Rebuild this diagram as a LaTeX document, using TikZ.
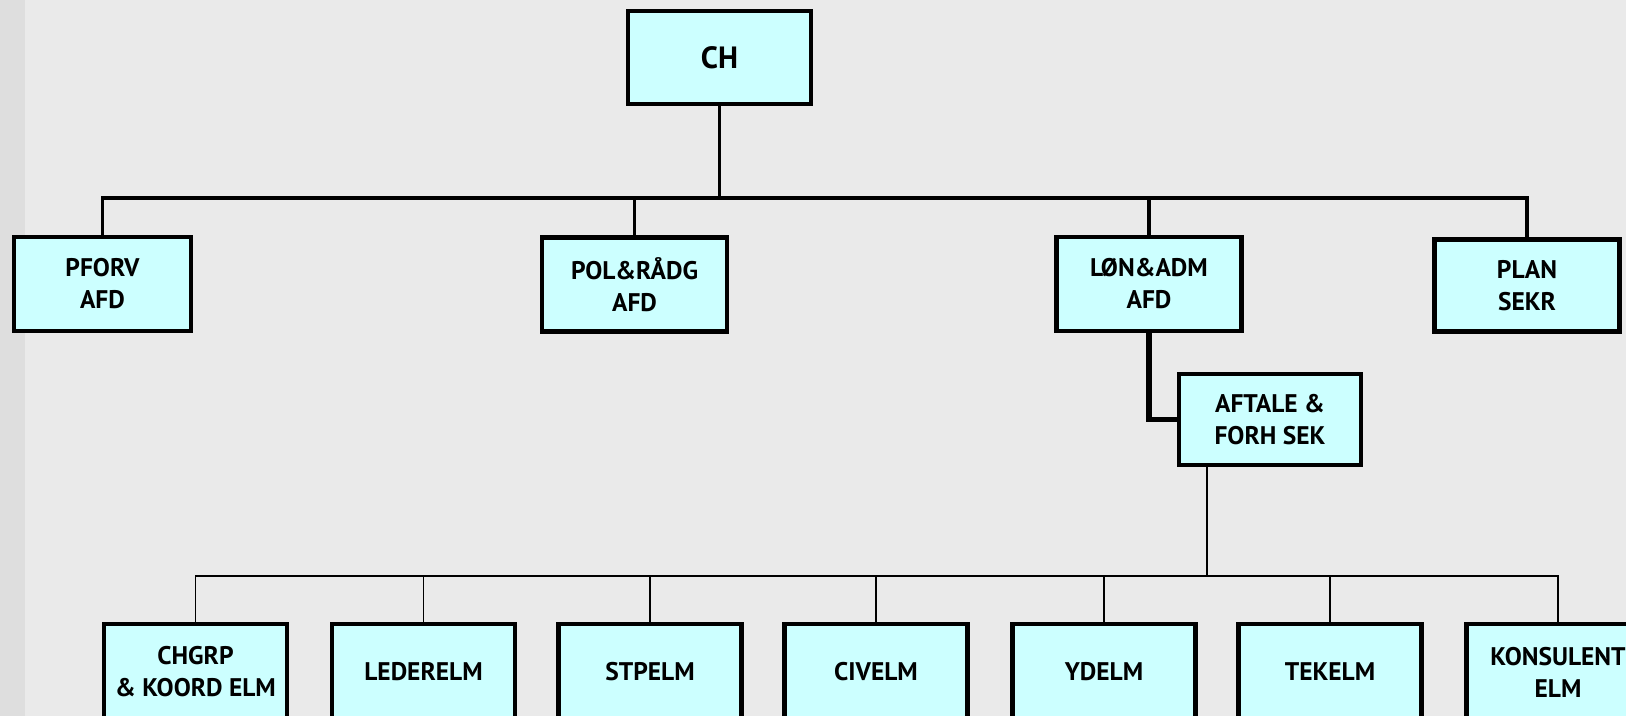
\documentclass[tikz,border=0pt]{standalone}
\usepackage{fontspec}
\setmainfont{PT Sans}
\usetikzlibrary{positioning}

\definecolor{bgmain}{HTML}{EAEAEA}
\definecolor{bgside}{HTML}{DEDEDE}
\definecolor{unitfill}{HTML}{CCFFFF}

\begin{document}
\begin{tikzpicture}[x=0.02cm, y=-0.02cm,
    unit/.style={rectangle, draw=black, fill=unitfill, line width=2.4pt, align=center,
        minimum width=3.7cm, minimum height=1.88cm, inner sep=0pt,
        font=\bfseries\fontsize{14.5}{18.2}\selectfont},
    lowunit/.style={unit, minimum width=3.66cm, minimum height=1.92cm},
    busline/.style={black, line width=2.2pt},
    linkline/.style={black, line width=3pt},
    thinline/.style={black, line width=0.8pt}]
\useasboundingbox (0,0) rectangle (1626,716);
\clip (0,0) rectangle (1626,716);
\fill[bgmain] (0,0) rectangle (1626,716);
\fill[bgside] (0,0) rectangle (25,716);

\coordinate (topbus) at (0,198);
\coordinate (lowbus) at (0,576);

% top levels
\node[unit, minimum width=3.66cm, minimum height=1.86cm, font=\bfseries\fontsize{17.5}{20}\selectfont] (ch) at (719.5,57.5) {CH};
\node[unit, minimum width=3.54cm] (pforv) at (102.5,284) {PFORV\\AFD};
\node[unit] (polraadg) at (634.5,284.5) {POL\&RÅDG\\AFD};
\node[unit] (lonadm) at (1149,284) {LØN\&ADM\\AFD};
\node[unit, minimum height=1.84cm] (plansekr) at (1527,285.5) {PLAN\\SEKR};
\node[unit, minimum width=3.64cm, minimum height=1.82cm] (aftale) at (1270,419.5) {AFTALE \&\\FORH SEK};

% elements
\node[lowunit] (chgrp) at (195.5,672) {CHGRP\\\& KOORD ELM};
\node[lowunit] (lederelm) at (423.5,672) {LEDERELM};
\node[lowunit] (stpelm) at (650,672) {STPELM};
\node[lowunit] (civelm) at (876,672) {CIVELM};
\node[lowunit] (ydelm) at (1104,672) {YDELM};
\node[lowunit] (tekelm) at (1330,672) {TEKELM};
\node[lowunit] (konsulent) at (1558,672) {KONSULENT\\ELM};

\draw[busline] (ch.south) -- (ch.south |- topbus);
\draw[busline] (pforv.north) -- (pforv.north |- topbus) -- (plansekr.north |- topbus) -- (plansekr.north);
\draw[busline] (polraadg.north) -- (polraadg.north |- topbus);
\draw[busline] (lonadm.north) -- (lonadm.north |- topbus);
\draw[linkline] (lonadm.south) |- (aftale.west);

\draw[thinline] ([xshift=0.6cm]aftale.south west) -- ([xshift=0.6cm]aftale.south west |- lowbus);
\draw[thinline] (chgrp.north) -- (chgrp.north |- lowbus) -- (konsulent.north |- lowbus) -- (konsulent.north);
\draw[thinline] (lederelm.north) -- (lederelm.north |- lowbus);
\draw[thinline] (stpelm.north) -- (stpelm.north |- lowbus);
\draw[thinline] (civelm.north) -- (civelm.north |- lowbus);
\draw[thinline] (ydelm.north) -- (ydelm.north |- lowbus);
\draw[thinline] (tekelm.north) -- (tekelm.north |- lowbus);

\end{tikzpicture}
\end{document}
